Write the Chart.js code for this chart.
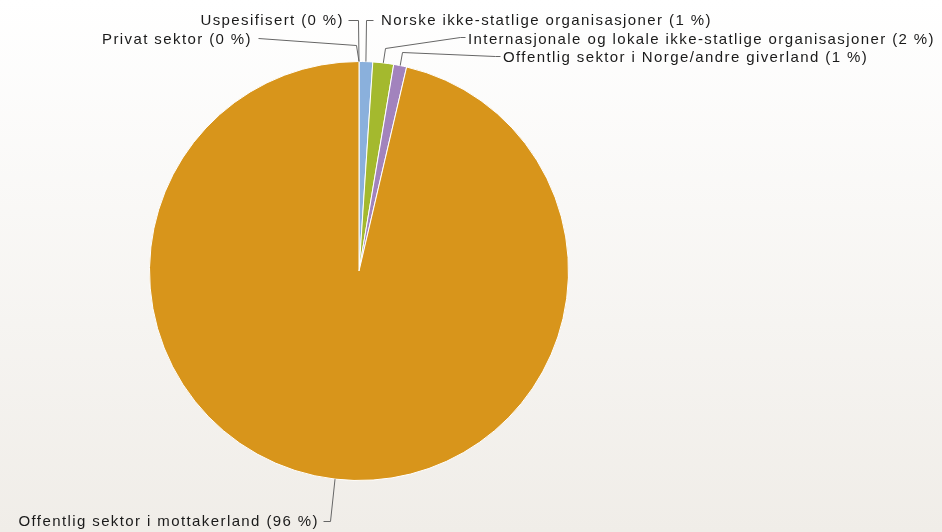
<!DOCTYPE html>
<html>
<head>
<meta charset="utf-8">
<script src="https://cdn.jsdelivr.net/npm/chart.js@4/dist/chart.umd.min.js"></script>
<style>
  html, body { margin: 0; padding: 0; }
  body { width: 942px; height: 532px; background: linear-gradient(#ffffff, #f0ede8); overflow: hidden; }
</style>
</head>
<body>
<canvas id="pieChart" width="942" height="532"></canvas>
<script>
const categories = [
  "Uspesifisert",
  "Privat sektor",
  "Norske ikke-statlige organisasjoner",
  "Internasjonale og lokale ikke-statlige organisasjoner",
  "Offentlig sektor i Norge/andre giverland",
  "Offentlig sektor i mottakerland"
];
const shares = [0, 0, 1.05, 1.6, 1.0, 96.35];
const sliceColors = ["#7f7f7f", "#c0504d", "#8ab0dc", "#a4b92e", "#a283bd", "#d8951b"];

// where each label goes and how its leader line bends (after leaving the slice)
const labelLayout = [
  { pts: [[358, 20], [348, 20]], tx: 344, ty: 21, align: "right" },
  { pts: [[356, 45], [258, 38]], tx: 252, ty: 40, align: "right" },
  { pts: [[366, 20], [373, 20]], tx: 381, ty: 21, align: "left" },
  { pts: [[385, 48], [460, 37], [465, 37]], tx: 468, ty: 40, align: "left" },
  { pts: [[402, 52], [495, 56], [500, 56]], tx: 503, ty: 58, align: "left" },
  { pts: [[330, 521], [323, 521]], tx: 319, ty: 522, align: "right" }
];

const pieLabels = {
  id: "pieLabels",
  afterDatasetsDraw(chart) {
    const ctx = chart.ctx;
    const meta = chart.getDatasetMeta(0);
    const total = shares.reduce((a, b) => a + b, 0);
    ctx.save();
    ctx.strokeStyle = "#666666";
    ctx.lineWidth = 1;
    ctx.fillStyle = "#1a1a1a";
    ctx.font = "15px 'Liberation Sans'";
    ctx.letterSpacing = "1.4px";
    ctx.textBaseline = "middle";
    meta.data.forEach((arc, i) => {
      const p = arc.getProps(["x", "y", "startAngle", "endAngle", "outerRadius"], true);
      const mid = (p.startAngle + p.endAngle) / 2;
      const ax = p.x + Math.cos(mid) * p.outerRadius;
      const ay = p.y + Math.sin(mid) * p.outerRadius;
      const lay = labelLayout[i];
      ctx.beginPath();
      ctx.moveTo(ax, ay);
      lay.pts.forEach(pt => ctx.lineTo(pt[0] + 0.5, pt[1] + 0.5));
      ctx.stroke();
      const pct = Math.round(shares[i] / total * 100);
      ctx.textAlign = lay.align;
      ctx.fillText(categories[i] + " (" + pct + " %)", lay.tx, lay.ty);
    });
    ctx.restore();
  }
};

new Chart(document.getElementById("pieChart"), {
  type: "pie",
  data: {
    labels: categories,
    datasets: [{
      data: shares,
      backgroundColor: sliceColors,
      borderColor: "#ffffff",
      borderWidth: 1
    }]
  },
  options: {
    responsive: false,
    animation: false,
    layout: { padding: { left: 149, right: 373, top: 61, bottom: 51 } },
    plugins: {
      legend: { display: false },
      tooltip: { enabled: false }
    }
  },
  plugins: [pieLabels]
});
</script>
</body>
</html>
